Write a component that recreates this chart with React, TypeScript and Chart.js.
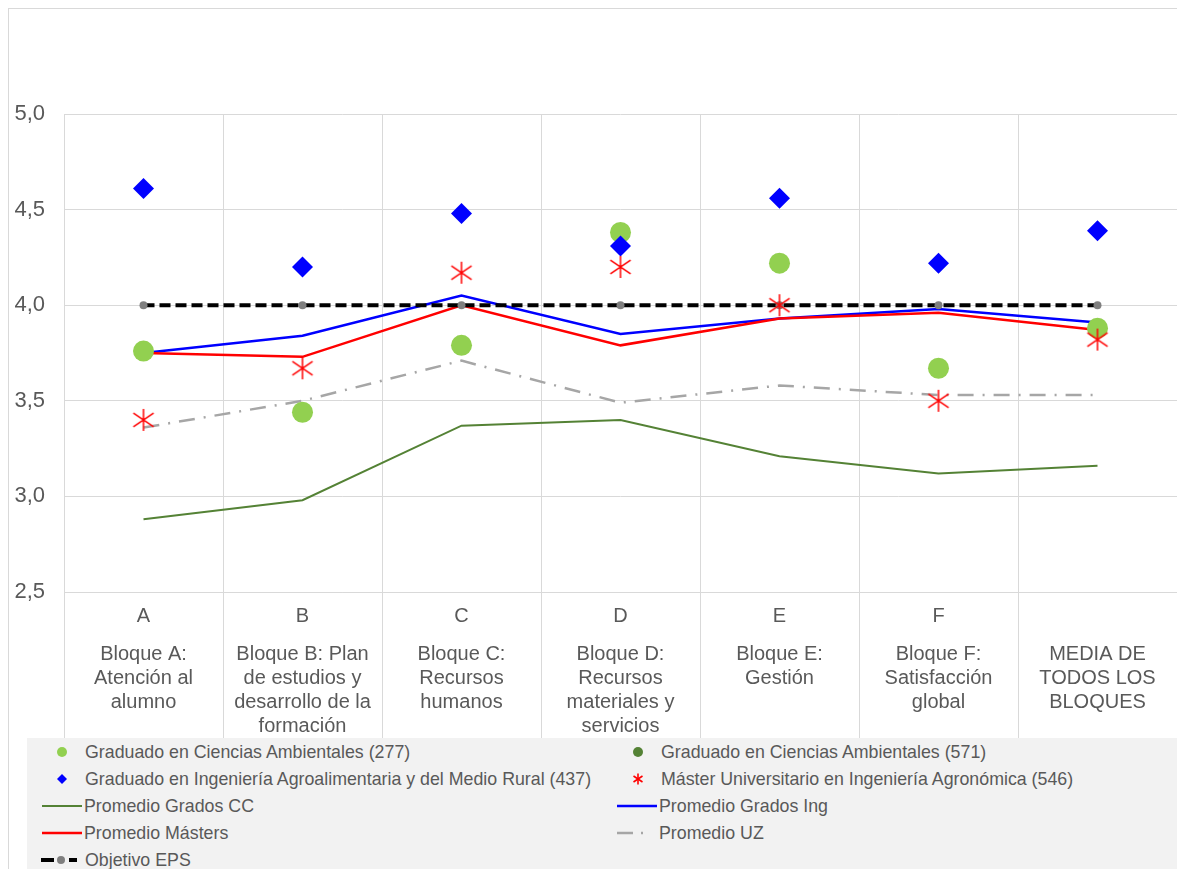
import React, { useEffect, useRef } from "react";
import { Chart, registerables } from "chart.js";

Chart.register(...registerables);

// ---- Data ----
const letters: string[] = ["A", "B", "C", "D", "E", "F", ""];
const descriptions: string[][] = [
  ["Bloque A:", "Atención al", "alumno"],
  ["Bloque B: Plan", "de estudios y", "desarrollo de la", "formación"],
  ["Bloque C:", "Recursos", "humanos"],
  ["Bloque D:", "Recursos", "materiales y", "servicios"],
  ["Bloque E:", "Gestión"],
  ["Bloque F:", "Satisfacción", "global"],
  ["MEDIA DE", "TODOS LOS", "BLOQUES"],
];

const gradCCAA277: number[] = [3.76, 3.44, 3.79, 4.38, 4.22, 3.67, 3.88];
const gradCCAA571: (number | null)[] = [null, null, null, null, null, null, null];
const gradIngAgro437: number[] = [4.61, 4.2, 4.48, 4.31, 4.56, 4.22, 4.39];
const masterAgro546: number[] = [3.4, 3.67, 4.17, 4.2, 4.0, 3.5, 3.82];
const promGradosCC: number[] = [2.88, 2.98, 3.37, 3.4, 3.21, 3.12, 3.16];
const promGradosIng: number[] = [3.75, 3.84, 4.05, 3.85, 3.93, 3.98, 3.91];
const promMasters: number[] = [3.75, 3.73, 4.0, 3.79, 3.93, 3.96, 3.87];
const promUZ: number[] = [3.36, 3.5, 3.71, 3.49, 3.58, 3.53, 3.53];
const objetivoEPS: number[] = [4, 4, 4, 4, 4, 4, 4];

const yMin = 2.5;
const yMax = 5.0;
const yStep = 0.5;

const FONT = "'Liberation Sans', Arial, sans-serif";
const TEXT = "#595959";
const GRID = "#d9d9d9";

function makeAsterisk(size: number, lw: number): HTMLCanvasElement {
  const c = document.createElement("canvas");
  c.width = size;
  c.height = size;
  const ctx = c.getContext("2d")!;
  ctx.strokeStyle = "#ff0000";
  ctx.lineWidth = lw;
  const m = size / 2;
  const r = size / 2 - 1;
  ctx.beginPath();
  ctx.moveTo(m, m - r);
  ctx.lineTo(m, m + r);
  const dx = r * 0.92;
  const dy = r * 0.62;
  ctx.moveTo(m - dx, m - dy);
  ctx.lineTo(m + dx, m + dy);
  ctx.moveTo(m - dx, m + dy);
  ctx.lineTo(m + dx, m - dy);
  ctx.stroke();
  return c;
}

type LegendItem = { label: string; left: number; row: number; kind: string; textLeft: number };

const legendItems: LegendItem[] = [
  { label: "Graduado en Ciencias Ambientales (277)", left: 62, row: 0, kind: "circleLight", textLeft: 85 },
  { label: "Graduado en Ciencias Ambientales (571)", left: 638, row: 0, kind: "circleDark", textLeft: 661 },
  { label: "Graduado en Ingeniería Agroalimentaria y del Medio Rural (437)", left: 62, row: 1, kind: "diamond", textLeft: 85 },
  { label: "Máster Universitario en Ingeniería Agronómica (546)", left: 638, row: 1, kind: "asterisk", textLeft: 661 },
  { label: "Promedio Grados CC", left: 62, row: 2, kind: "lineGreen", textLeft: 84 },
  { label: "Promedio Grados Ing", left: 637, row: 2, kind: "lineBlue", textLeft: 659 },
  { label: "Promedio Másters", left: 62, row: 3, kind: "lineRed", textLeft: 84 },
  { label: "Promedio UZ", left: 637, row: 3, kind: "lineUZ", textLeft: 659 },
  { label: "Objetivo EPS", left: 62, row: 4, kind: "eps", textLeft: 85 },
];

function Marker({ kind }: { kind: string }) {
  // svg 44x20 centred at (22,10)
  let content: React.ReactNode = null;
  switch (kind) {
    case "circleLight":
      content = <circle cx={22} cy={10} r={5} fill="#92d050" />;
      break;
    case "circleDark":
      content = <circle cx={22} cy={10} r={5} fill="#548235" />;
      break;
    case "diamond":
      content = <polygon points="22,5 27,10 22,15 17,10" fill="#0000ff" />;
      break;
    case "asterisk":
      content = (
        <g stroke="#ff0000" strokeWidth={1.6}>
          <line x1={22} y1={4.5} x2={22} y2={15.5} />
          <line x1={17.5} y1={7} x2={26.5} y2={13} />
          <line x1={17.5} y1={13} x2={26.5} y2={7} />
        </g>
      );
      break;
    case "lineGreen":
      content = <line x1={2} y1={10} x2={42} y2={10} stroke="#548235" strokeWidth={2} />;
      break;
    case "lineBlue":
      content = <line x1={2} y1={10} x2={42} y2={10} stroke="#0000ff" strokeWidth={2.5} />;
      break;
    case "lineRed":
      content = <line x1={2} y1={10} x2={42} y2={10} stroke="#ff0000" strokeWidth={2.5} />;
      break;
    case "lineUZ":
      content = (
        <g stroke="#a6a6a6" strokeWidth={2.5}>
          <line x1={2} y1={10} x2={18} y2={10} />
          <line x1={26} y1={10} x2={28} y2={10} />
        </g>
      );
      break;
    case "eps":
      content = (
        <g>
          <line x1={1} y1={10} x2={14} y2={10} stroke="#000" strokeWidth={4} />
          <circle cx={21} cy={10} r={4} fill="#7f7f7f" />
          <line x1={29} y1={10} x2={37} y2={10} stroke="#000" strokeWidth={4} />
        </g>
      );
      break;
  }
  return (
    <svg width={44} height={20} style={{ position: "absolute", left: -22, top: -10, overflow: "visible" }}>
      {content}
    </svg>
  );
}

export default function App() {
  const canvasRef = useRef<HTMLCanvasElement | null>(null);

  useEffect(() => {
    const canvas = canvasRef.current;
    if (!canvas) return;
    Chart.defaults.font.family = FONT;
    Chart.defaults.color = TEXT;

    const asterisk = makeAsterisk(24, 1.5);

    const chart = new Chart(canvas, {
      type: "line",
      data: {
        labels: letters,
        datasets: [
          {
            label: "Máster Universitario en Ingeniería Agronómica (546)",
            data: masterAgro546,
            showLine: false,
            pointStyle: asterisk as any,
            pointRadius: 12,
            borderColor: "#ff0000",
            backgroundColor: "#ff0000",
            order: 1,
          },
          {
            label: "Graduado en Ingeniería Agroalimentaria y del Medio Rural (437)",
            data: gradIngAgro437,
            showLine: false,
            pointStyle: "rectRot",
            pointRadius: 10.5,
            pointBorderWidth: 0,
            borderColor: "#0000ff",
            backgroundColor: "#0000ff",
            order: 2,
          },
          {
            label: "Graduado en Ciencias Ambientales (277)",
            data: gradCCAA277,
            showLine: false,
            pointStyle: "circle",
            pointRadius: 10.5,
            pointBorderWidth: 0,
            borderColor: "#92d050",
            backgroundColor: "#92d050",
            order: 3,
          },
          {
            label: "Graduado en Ciencias Ambientales (571)",
            data: gradCCAA571,
            showLine: false,
            pointStyle: "circle",
            pointRadius: 5,
            borderColor: "#548235",
            backgroundColor: "#548235",
            order: 3,
          },
          {
            label: "Objetivo EPS",
            data: objetivoEPS,
            borderColor: "#000000",
            borderWidth: 4,
            borderDash: [11, 5],
            pointRadius: 4,
            pointBorderWidth: 0,
            pointBackgroundColor: "#7f7f7f",
            pointBorderColor: "#7f7f7f",
            backgroundColor: "#7f7f7f",
            order: 4,
          },
          {
            label: "Promedio Másters",
            data: promMasters,
            borderColor: "#ff0000",
            borderWidth: 2.5,
            pointRadius: 0,
            order: 5,
          },
          {
            label: "Promedio Grados Ing",
            data: promGradosIng,
            borderColor: "#0000ff",
            borderWidth: 2.5,
            pointRadius: 0,
            order: 6,
          },
          {
            label: "Promedio UZ",
            data: promUZ,
            borderColor: "#a6a6a6",
            borderWidth: 2.5,
            borderDash: [16, 9, 2, 9],
            pointRadius: 0,
            order: 7,
          },
          {
            label: "Promedio Grados CC",
            data: promGradosCC,
            borderColor: "#548235",
            borderWidth: 2,
            pointRadius: 0,
            order: 8,
          },
        ],
      },
      options: {
        responsive: false,
        animation: false,
        events: [],
        layout: { autoPadding: false, padding: { left: 8, top: 114, right: 0, bottom: 0 } },
        plugins: {
          legend: { display: false },
          tooltip: { enabled: false },
          title: { display: false },
        },
        scales: {
          x: {
            type: "category",
            position: "bottom",
            offset: true,
            grid: { color: GRID, tickLength: 146, offset: true, lineWidth: 1 },
            border: { color: GRID },
            afterFit: (s: any) => {
              s.height = 36;
              s.paddingLeft = 0;
              s.paddingRight = 0;
            },
            ticks: {
              padding: -134,
              font: { size: 20, family: FONT },
              color: TEXT,
              maxRotation: 0,
              autoSkip: false,
            },
          },
          x2: {
            type: "category",
            position: "bottom",
            labels: descriptions as any,
            offset: true,
            grid: { display: false, drawTicks: false },
            border: { display: false },
            afterFit: (s: any) => {
              s.height = 110;
              s.paddingLeft = 0;
              s.paddingRight = 0;
            },
            ticks: {
              padding: 14,
              font: { size: 20, family: FONT },
              color: TEXT,
              maxRotation: 0,
              autoSkip: false,
            },
          },
          y: {
            min: yMin,
            max: yMax,
            grid: { color: GRID, drawTicks: false },
            border: { display: false },
            afterFit: (s: any) => {
              s.width = 56;
            },
            ticks: {
              stepSize: yStep,
              padding: 19,
              font: { size: 22, family: FONT },
              color: TEXT,
              callback: (v: any) => Number(v).toFixed(1).replace(".", ","),
            },
          },
        },
      },
    });
    return () => chart.destroy();
  }, []);

  return (
    <div style={{ position: "absolute", left: 0, top: 0, width: 1177, height: 869, overflow: "hidden", background: "#fff", fontFamily: FONT }}>
      <div
        style={{
          position: "absolute",
          left: 8,
          top: 8,
          width: 1200,
          height: 900,
          borderTop: "1px solid #d9d9d9",
          borderLeft: "1px solid #d9d9d9",
        }}
      />
      <div style={{ position: "absolute", left: 27, top: 738, width: 1150, height: 131, background: "#f2f2f2" }} />
      <canvas ref={canvasRef} width={1177} height={738} style={{ position: "absolute", left: 0, top: 0, width: 1177, height: 738 }} />
      {legendItems.map((it, i) => {
        const cy = 752 + it.row * 27;
        return (
          <React.Fragment key={i}>
            <div style={{ position: "absolute", left: it.left, top: cy, width: 0, height: 0 }}>
              <Marker kind={it.kind} />
            </div>
            <div
              style={{
                position: "absolute",
                left: it.textLeft,
                top: cy - 12,
                height: 24,
                lineHeight: "24px",
                fontSize: "17.8px",
                color: TEXT,
                whiteSpace: "nowrap",
              }}
            >
              {it.label}
            </div>
          </React.Fragment>
        );
      })}
    </div>
  );
}
